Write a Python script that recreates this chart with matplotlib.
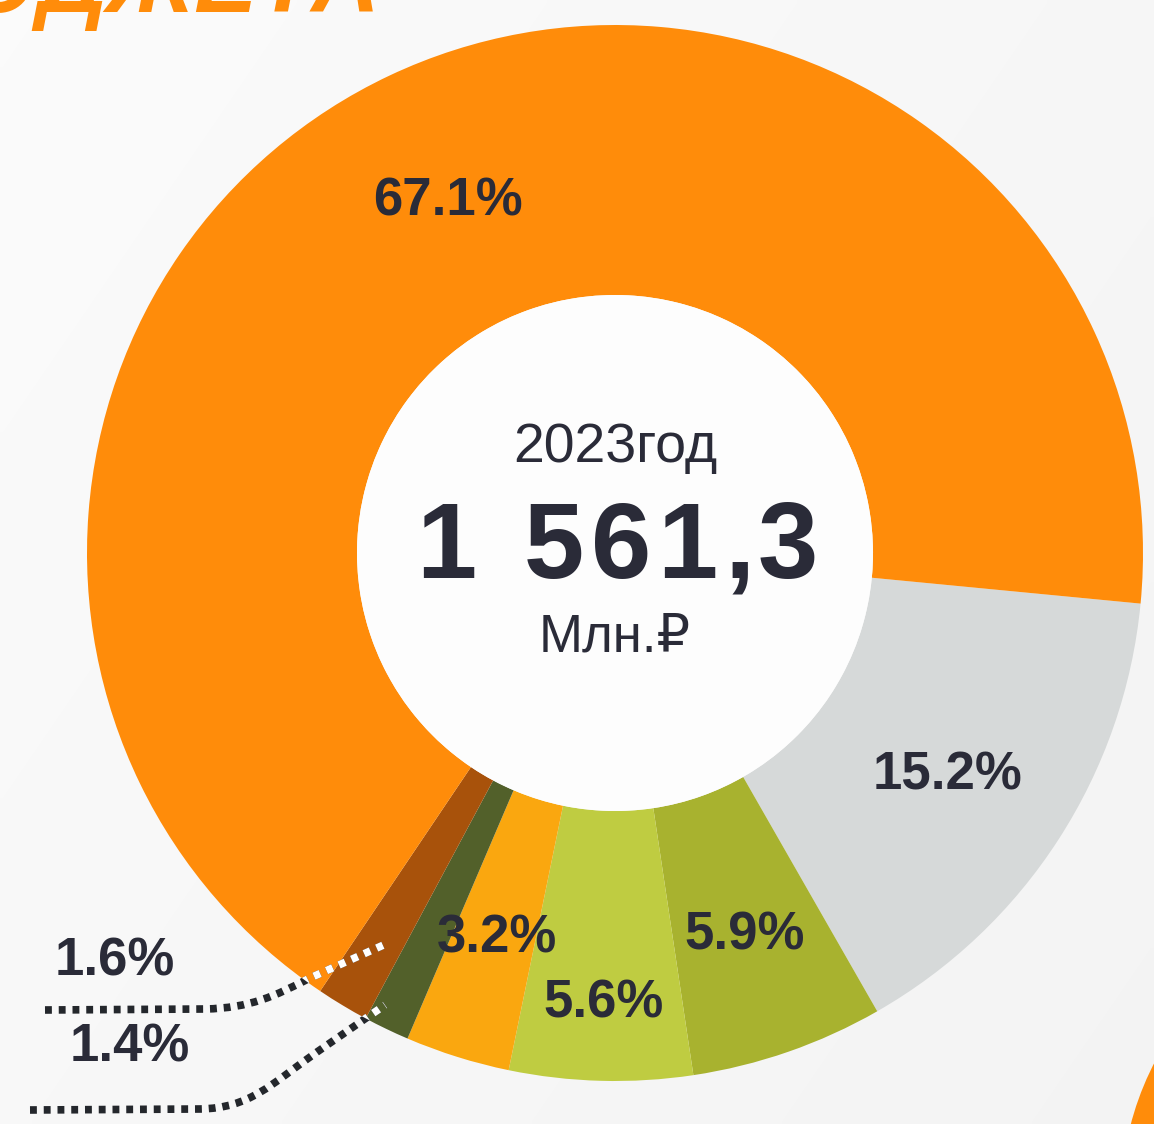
import numpy as np
import matplotlib.pyplot as plt
from matplotlib.patches import Circle, PathPatch
from matplotlib.path import Path
from matplotlib.textpath import TextPath
from matplotlib.font_manager import FontProperties

# slices, clockwise starting from the right side
shares = [15.2, 5.9, 5.6, 3.2, 1.4, 1.6, 67.1]
colors = ['#D6D9D9', '#A8B22F', '#BFCC41', '#FAA70F', '#52602A', '#A8520B', '#FF8C0A']
total_label = '1 561,3'
year_label = '2023год'
unit_label = 'Млн.₽'

W, H = 1154, 1124
DARK = '#2A2B38'
plt.rcParams['font.family'] = ['Liberation Sans', 'DejaVu Sans']

fig = plt.figure(figsize=(W / 100, H / 100), dpi=100)
fig.patch.set_facecolor('#F6F6F6')
ax = fig.add_axes([0, 0, 1, 1])

# soft light background gradient
gx = np.linspace(0, 1, 200)
gy = np.linspace(0, 1, 200)
g = 0.985 - 0.03 * (0.6 * gx[None, :] + 0.4 * gy[:, None])
bg = np.dstack([g, g, g])
ax.imshow(bg, extent=(0, W, 0, H), zorder=0, aspect='auto', interpolation='bilinear')

cx, cy = 615, H - 553
R, r_in = 528, 258

wedges, texts, autotexts = ax.pie(
    shares, colors=colors, radius=R, center=(cx, cy), startangle=-5.5,
    counterclock=False, autopct='%.1f%%', pctdistance=0.75,
    wedgeprops=dict(width=R - r_in, linewidth=0),
    textprops=dict(fontsize=38, fontweight='bold', color=DARK))
for w in wedges:
    w.set_zorder(2)
for t in autotexts:
    t.set_zorder(5)
    x, y = t.get_position()
    t.set_position((x, y - 8))

# hand-placed labels for small slices
autotexts[2].set_position((604, H - 1003))
autotexts[4].set_position((130, H - 1047))
autotexts[5].set_position((115, H - 962))
autotexts[6].set_position((448, H - 202))

ax.add_patch(Circle((cx, cy), r_in, facecolor='#FDFDFD', edgecolor='none', zorder=3))

ax.text(cx, H - 448, year_label, ha='center', va='center', fontsize=40, color=DARK, zorder=5)
ax.text(cx, H - 637, unit_label, ha='center', va='center', fontsize=38, color=DARK, zorder=5)

# big total with wider letter spacing
fp = FontProperties(family='Liberation Sans', weight='bold', size=78)
px_per_pt = 100 / 72
tracking = 10
space_w = 78 * 0.278 * px_per_pt
adv = [TextPath((0, 0), c, prop=fp).vertices[:, 0].max() * px_per_pt if c != ' ' else space_w
       for c in total_label]
total_w = sum(adv) + tracking * (len(total_label) - 1)
x0 = cx - total_w / 2
for c, a in zip(total_label, adv):
    if c != ' ':
        ax.text(x0, H - 550, c, ha='left', va='center', fontproperties=fp, color=DARK, zorder=5)
    x0 += a + tracking

# leader lines for 1.6% and 1.4%
def leader(pts):
    verts = [(x, H - y) for x, y in pts]
    codes = [Path.MOVETO, Path.LINETO, Path.CURVE4, Path.CURVE4, Path.CURVE4, Path.LINETO]
    return Path(verts, codes)

paths = [
    leader([(45, 1010), (205, 1009), (250, 1008), (275, 996), (310, 978), (388, 943)]),
    leader([(30, 1110), (200, 1109), (250, 1108), (270, 1085), (317, 1052), (385, 1005)]),
]
clip = Circle((cx, cy), R, transform=ax.transData)
for p in paths:
    for col, clipped in [('#24272C', False), ('white', True)]:
        pp = PathPatch(p, facecolor='none', edgecolor=col, linewidth=5.5,
                       linestyle=(0, (0.9, 0.9)), capstyle='butt', zorder=4)
        ax.add_patch(pp)
        if clipped:
            pp.set_clip_path(clip)

# cut-off title at top and neighbouring shape at bottom-right
ax.text(380, H - 12, 'БЮДЖЕТА', ha='right', va='baseline', fontsize=68,
        fontweight='bold', fontstyle='italic', color='#FF8C0A', zorder=5)
ax.add_patch(Circle((1420, H - 1200), 299, facecolor='#FF8C0A', edgecolor='none', zorder=2))

ax.set_xlim(0, W)
ax.set_ylim(0, H)
ax.set_aspect('auto')
ax.axis('off')

fig.savefig('out.png', dpi=100, facecolor=fig.get_facecolor())
